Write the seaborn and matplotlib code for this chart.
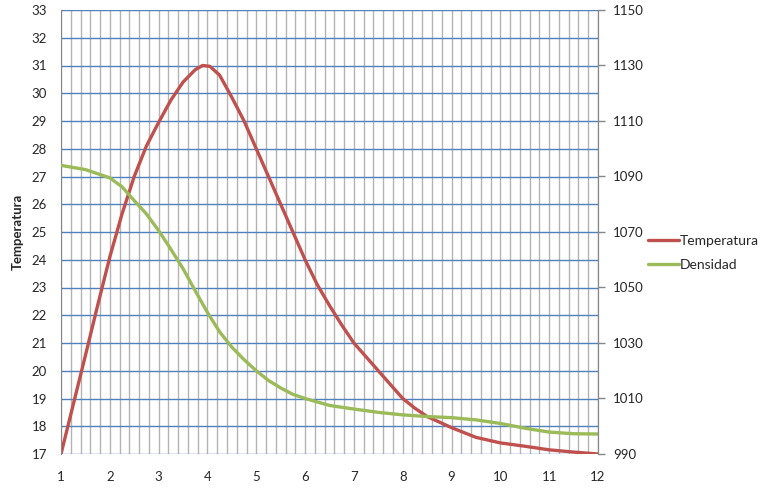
import matplotlib
matplotlib.use("Agg")
import matplotlib.pyplot as plt
from matplotlib.ticker import MultipleLocator
import seaborn as sns

# values (denser where the curves bend most)
x_temp = [1.0, 1.5, 1.75, 2.0, 2.25, 2.5, 2.75, 3.0, 3.25, 3.5, 3.75, 3.9, 4.05, 4.25,
          4.5, 4.75, 5.0, 5.25, 5.5, 5.75, 6.0, 6.25, 6.5, 6.75, 7.0, 7.25, 7.5,
          7.75, 8.0, 8.25, 8.5, 9.0, 9.5, 10.0, 10.5, 11.0, 11.5, 12.0]
temperatura = [17.0, 20.55, 22.35, 24.1, 25.65, 27.0, 28.1, 28.95, 29.75, 30.4, 30.85,
               31.0, 30.97, 30.65, 29.85, 29.0, 28.0, 27.0, 26.0, 25.0, 24.0, 23.1,
               22.35, 21.65, 21.0, 20.5, 20.0, 19.5, 19.0, 18.65, 18.35, 17.95, 17.6,
               17.4, 17.28, 17.15, 17.07, 17.0]

x_dens = [1.0, 1.5, 2.0, 2.25, 2.5, 2.75, 3.0, 3.25, 3.5, 3.75, 4.0, 4.25, 4.5, 4.75,
          5.0, 5.25, 5.5, 5.75, 6.0, 6.5, 7.0, 7.5, 8.0, 8.5, 9.0, 9.5, 10.0, 10.5,
          11.0, 11.5, 12.0]
densidad = [1094.0, 1092.5, 1089.5, 1086.3, 1081.3, 1076.5, 1070.5, 1063.8, 1056.8,
            1048.8, 1041.0, 1034.0, 1028.5, 1024.0, 1020.0, 1016.5, 1013.8, 1011.5,
            1010.0, 1007.5, 1006.2, 1005.0, 1004.1, 1003.5, 1003.1, 1002.3, 1001.0,
            999.3, 997.9, 997.3, 997.2]

x_ticks = list(range(1, 13))
temp_ticks = list(range(17, 34))
dens_ticks = list(range(990, 1151, 20))

RED = "#C0504D"
GREEN = "#9BBB59"
BLUE_GRID = "#4F81BD"
GRAY_GRID = "#B3B3B3"
AXIS_GRAY = "#868686"

sns.set_style("white")
plt.rcParams["font.family"] = ["Lato", "DejaVu Sans"]
plt.rcParams["font.size"] = 9.5

fig = plt.figure(figsize=(7.66, 4.88), dpi=100)
ax = fig.add_axes([61 / 766, 1 - 454 / 488, (598 - 61) / 766, (454 - 10) / 488])
ax2 = ax.twinx()

sns.lineplot(x=x_temp, y=temperatura, ax=ax, color=RED, lw=2.4, label="Temperatura", legend=False)
sns.lineplot(x=x_dens, y=densidad, ax=ax2, color=GREEN, lw=2.4, label="Densidad", legend=False)

ax.set_xlim(1, 12)
ax.set_ylim(17, 33)
ax2.set_ylim(990, 1150)
ax.set_xticks(x_ticks)
ax.xaxis.set_minor_locator(MultipleLocator(0.2))
ax.set_yticks(temp_ticks)
ax2.set_yticks(dens_ticks)

ax.grid(False)
ax2.grid(False)
ax.xaxis.grid(True, which="both", color=GRAY_GRID, lw=1)
ax.yaxis.grid(True, which="major", color=BLUE_GRID, lw=1)
ax.set_axisbelow(True)

ax.tick_params(axis="x", which="both", length=0, pad=12, labelsize=9.5)
ax.tick_params(axis="y", length=0, pad=10, labelsize=9.5)
ax2.tick_params(axis="y", length=5, width=1, color=AXIS_GRAY, pad=6, labelsize=9.5)

for a in (ax, ax2):
    a.spines["top"].set_visible(False)
    a.spines["bottom"].set_visible(False)
    a.spines["left"].set_color(AXIS_GRAY)
    a.spines["right"].set_color(AXIS_GRAY)
ax2.spines["left"].set_visible(False)

ax.set_ylabel("Temperatura", fontweight="bold", fontsize=9.5)
ax.yaxis.set_label_coords(-0.07, 0.5)
ax2.set_ylabel("")
ax.set_xlabel("")

h1, l1 = ax.get_legend_handles_labels()
h2, l2 = ax2.get_legend_handles_labels()
ax2.legend(h1 + h2, l1 + l2, loc="center left", bbox_to_anchor=(648 / 766, 1 - 253 / 488),
           bbox_transform=fig.transFigure, frameon=False, borderpad=0, borderaxespad=0,
           handlelength=2.2, handletextpad=0.1, labelspacing=0.85, fontsize=10)

fig.savefig("out.png", dpi=100)
